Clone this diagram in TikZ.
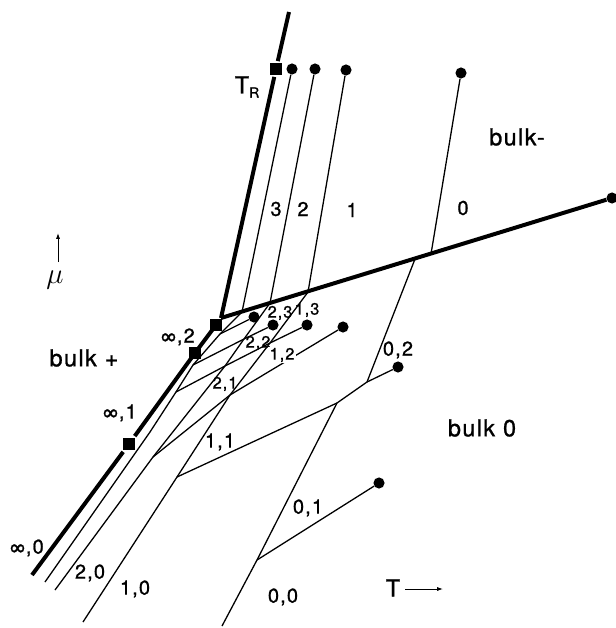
\documentclass[tikz,border=0pt]{standalone}
\usepackage{fontspec}
\setmainfont{TeX Gyre Heros}
\newfontfamily\lblfont[LetterSpace=6,FakeBold=1]{TeX Gyre Heros}
\usetikzlibrary{arrows.meta}

\begin{document}
\begin{tikzpicture}[x=0.03cm,y=-0.03cm,
  every node/.style={font=\lblfont\fontsize{17}{19}\selectfont,inner sep=1pt},
  bd/.style={line width=3.4pt},
  ly/.style={line width=1.1pt},
  cp/.style={circle,fill,inner sep=0pt,minimum size=9.5pt},
  sq/.style={rectangle,fill,inner sep=0pt,minimum size=9.5pt},
  sml/.style={font=\lblfont\fontsize{14}{16}\selectfont},
  big/.style={font=\lblfont\fontsize{20}{22}\selectfont}]
\useasboundingbox (0,0) rectangle (615,628);

% markers
\node[sq,outer sep=2pt] (sR) at (276,69) {};
\node[sq,outer sep=2pt] (s1) at (129,444) {};
\node[sq] (s2) at (195,353) {};
\node[sq] (s3) at (216,325) {};
\node[cp] (d3) at (292,69) {};
\node[cp] (d2) at (315,69) {};
\node[cp] (d1) at (346,70) {};
\node[cp] (d0) at (461,73) {};
\node[cp] (dB) at (612,198) {};
\node[cp] (c01) at (379,483) {};
\node[cp] (c02) at (398,367) {};
\node[cp] (c12) at (343,327) {};
\node[cp] (c13) at (307,325) {};
\node[cp] (c23) at (273,325) {};
\node[cp] (c33) at (254,317) {};

% vertices
\coordinate (b0) at (32,575);
\coordinate (tp) at (221,318);
\coordinate (top) at (289,12);
\coordinate (t3) at (242,312);
\coordinate (t2) at (270,303);
\coordinate (t1) at (308,292);
\coordinate (t0) at (431,254);
\coordinate (u0) at (415,259);
\coordinate (D0) at (222,626);
\coordinate (v5) at (257,560);
\coordinate (v3) at (337,403);
\coordinate (v4) at (367,382);
\coordinate (C0) at (83,622);
\coordinate (v1) at (177,477);
\coordinate (v2) at (230,395);
\coordinate (x13) at (270,343);
\coordinate (B0) at (55,590);
\coordinate (v6) at (153,457);
\coordinate (x22) at (225,366);
\coordinate (x23) at (244,339);
\coordinate (A0) at (45,582);
\coordinate (a1) at (150,432);
\coordinate (x31) at (176,392);
\coordinate (a2) at (193,365);
\coordinate (x33) at (220,334);

% coexistence lines
\draw[bd] (b0) -- (s1);
\draw[bd] (s1) -- (s2.center) -- (s3.center);
\draw[bd] (tp) -- (sR);
\draw[bd] (sR) -- (top);
\draw[bd] (tp) -- (dB);

% layering lines above
\foreach \d/\t in {d3/t3,d2/t2,d1/t1,d0/t0}
  \draw[ly] (\d) -- (\t);

% layering lines below
\draw[ly] (D0) -- (v5) -- (v3) -- (v4) -- (u0);
\draw[ly] (C0) -- (v1) -- (v2) -- (x13) -- (t1);
\draw[ly] (B0) -- (v6) -- (x22) -- (x23) -- (t2);
\draw[ly] (A0) -- (a1) -- (x31) -- (a2) -- (x33) -- (t3);
\draw[ly] (v5) -- (c01);
\draw[ly] (v1) -- (v3) (v4) -- (c02);
\draw[ly] (v6) -- (v2) -- (c12);
\draw[ly] (x31) -- (x22) -- (x13) -- (c13);
\draw[ly] (a2) -- (x23) -- (c23);
\draw[ly] (x33) -- (c33);

% labels
\node[big] (lTR) at (242,87) {T\rlap{\raisebox{-0.35ex}{\fontsize{12}{13}\selectfont R}}};
\node (l3) at (276,209) {3};
\node (l2) at (303,209) {2};
\node (l1) at (352,210) {1};
\node (l0) at (463,208) {0};
\node[big] (lbm) at (517,137) {bulk-};
\node[big] (lbp) at (84,358) {bulk +};
\node[big] (lb0) at (482,428) {bulk 0};
\node (linf2) at (178,337) {∞,2};
\node (linf1) at (120,413) {∞,1};
\node (linf0) at (27,548) {∞,0};
\node (l20) at (90,573) {2,0};
\node (l10) at (135,589) {1,0};
\node (l00) at (283,597) {0,0};
\node (l01) at (308,508) {0,1};
\node (l11) at (220,442) {1,1};
\node[sml] (l21) at (225,384) {2,1};
\node[sml] (l22) at (258,343) {2,2};
\node[sml,fill=white] (l12) at (282,355) {1,2};
\node[sml] (l23) at (280,313) {2,3};
\node[sml] (l13) at (307,310) {1,3};
\node (l02) at (398,350) {0,2};

% axes
\node[font=\fontsize{24}{26}\selectfont] (lmu) at (55,280) {$\mu$};
\coordinate (mua) at (58,262);
\coordinate (mub) at (58,233);
\draw[line width=0.8pt,-{Latex[length=5pt,width=3.5pt]}] (mua) -- (mub);
\node[big] (lT) at (393,588) {T};
\coordinate (Ta) at (405,589);
\coordinate (Tb) at (443,589);
\draw[line width=0.8pt,-{Latex[length=5pt,width=3.5pt]}] (Ta) -- (Tb);
\end{tikzpicture}
\end{document}
